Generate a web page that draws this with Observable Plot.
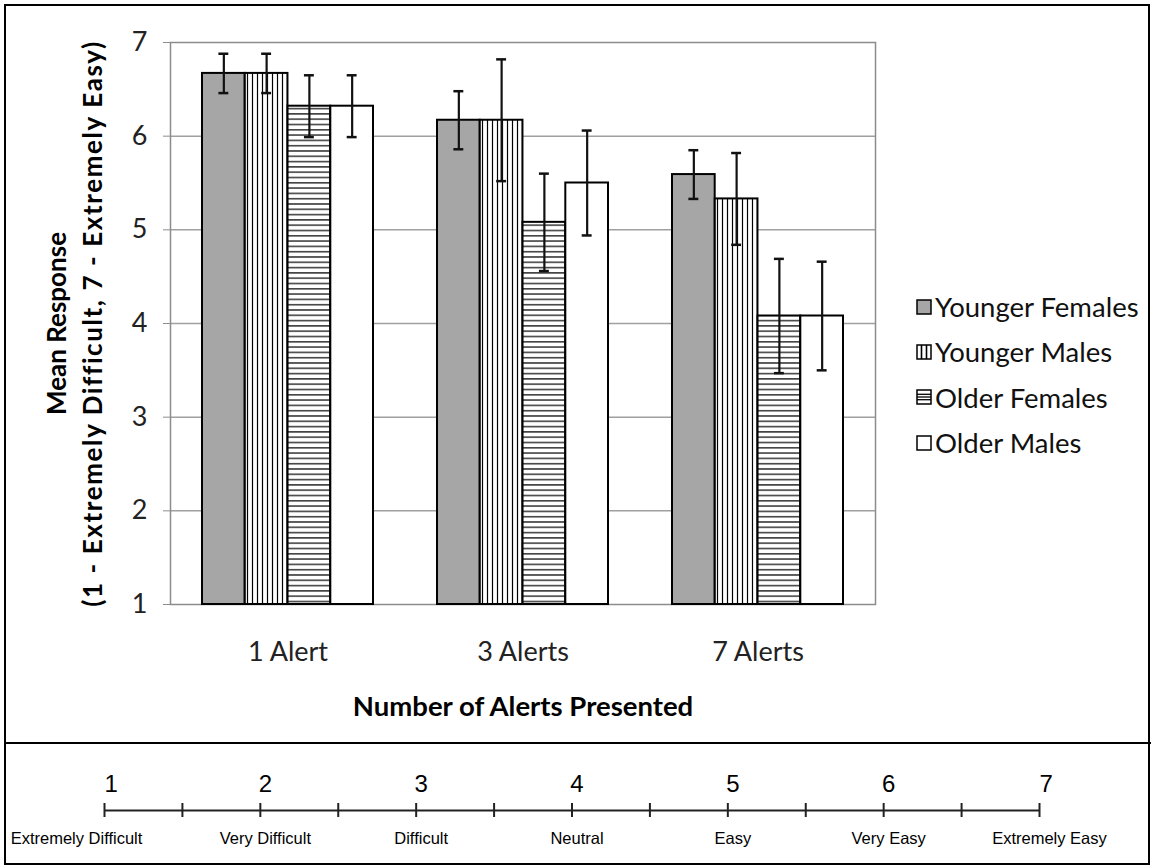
<!DOCTYPE html>
<html>
<head>
<meta charset="utf-8">
<script src="https://cdn.jsdelivr.net/npm/d3@7"></script>
<script src="https://cdn.jsdelivr.net/npm/@observablehq/plot@0.6"></script>
<style>
  html, body { margin: 0; padding: 0; background: #fff; }
  #page { position: relative; width: 1151px; height: 867px; overflow: hidden; background: #fff; }
  #main { position: absolute; left: 0; top: 0; }
  #scale { position: absolute; left: 0; top: 745px; }
  #border { position: absolute; left: 4px; top: 4px; width: 1146px; height: 861px; box-sizing: border-box; border: 2px solid #000; pointer-events: none; }
  #divider { position: absolute; left: 4px; top: 742px; width: 1147px; height: 0; border-top: 2.5px solid #000; }
  #legend { position: absolute; left: 916px; top: 284px; font-family: Lato, sans-serif; font-size: 27.5px; color: #111; }
  .item { display: flex; align-items: center; height: 45.3px; }
  .item svg { margin-right: 3px; flex: none; }
</style>
</head>
<body>
<div id="page">
  <div id="main"></div>
  <div id="scale"></div>
  <div id="legend"></div>
  <div id="border"></div>
  <div id="divider"></div>
</div>
<script>
// ---- data ----
const alerts = ["1 Alert", "3 Alerts", "7 Alerts"];
const series = ["Younger Females", "Younger Males", "Older Females", "Older Males"];
const youngerFemales = [6.67, 6.17, 5.59];
const youngerMales   = [6.67, 6.17, 5.33];
const olderFemales   = [6.32, 5.08, 4.08];
const olderMales     = [6.32, 5.50, 4.08];
const youngerFemalesErr = [0.21, 0.31, 0.26];
const youngerMalesErr   = [0.21, 0.65, 0.49];
const olderFemalesErr   = [0.33, 0.52, 0.61];
const olderMalesErr     = [0.33, 0.56, 0.58];
const yTicks = [1, 2, 3, 4, 5, 6, 7];
const gridTicks = [2, 3, 4, 5, 6];
const yTitleLine1 = "Mean Response";
const yTitleLine2 = "(1 - Extremely Difficult, 7 - Extremely Easy)";
const xTitle = "Number of Alerts Presented";
const scaleValues = [1, 2, 3, 4, 5, 6, 7];
const scaleMinorTicks = [1.5, 2.5, 3.5, 4.5, 5.5, 6.5];
const scaleLabels = ["Extremely Difficult", "Very Difficult", "Difficult", "Neutral", "Easy", "Very Easy", "Extremely Easy"];

const means = [youngerFemales, youngerMales, olderFemales, olderMales];
const errs = [youngerFemalesErr, youngerMalesErr, olderFemalesErr, olderMalesErr];
const fills = ["#a6a6a6", "url(#vstripes)", "url(#hstripes)", "#ffffff"];

const rows = [];
series.forEach((s, i) => alerts.forEach((a, j) => rows.push({series: s, alert: a, mean: means[i][j], err: errs[i][j]})));

// ---- layout ----
const W = 1151, H = 743;
const mL = 170, mR = 276, mT = 42, mB = 139;
const pIn = 0.272, pOut = 0.136;
const innerW = W - mL - mR;
const step = innerW / (alerts.length - pIn + 2 * pOut);
const bw = step * (1 - pIn);
const sub = bw / series.length;
const capHalf = 5;

const marks = [
  Plot.ruleY(gridTicks, {stroke: "#a0a0a0", strokeWidth: 1.5}),
  Plot.frame({stroke: "#8c8c8c", strokeWidth: 1.5}),
  Plot.axisY(yTicks, {tickSize: 7, tickPadding: 16, stroke: "#8c8c8c", fill: "#222", fontSize: 27, label: null, tickFormat: d => String(d)}),
];
series.forEach((s, i) => {
  const data = rows.filter(d => d.series === s);
  marks.push(Plot.barY(data, {
    x: "alert", y1: 1, y2: "mean", fill: fills[i], stroke: "#000", strokeWidth: 2,
    insetLeft: i * sub, insetRight: (series.length - 1 - i) * sub
  }));
});
series.forEach((s, i) => {
  const data = rows.filter(d => d.series === s);
  const c = (i + 0.5) * sub;
  marks.push(Plot.ruleX(data, {x: "alert", y1: d => d.mean - d.err, y2: d => d.mean + d.err, dx: c - bw / 2, stroke: "#111", strokeWidth: 2.2}));
  for (const sign of [-1, 1]) {
    marks.push(Plot.tickY(data, {x: "alert", y: d => d.mean + sign * d.err, insetLeft: c - capHalf, insetRight: bw - c - capHalf, stroke: "#111", strokeWidth: 2.5}));
  }
});
marks.push(Plot.text(alerts, {x: d => d, frameAnchor: "bottom", dy: 48, lineAnchor: "middle", fontSize: 27, fill: "#222"}));
marks.push(Plot.text([xTitle], {frameAnchor: "bottom", dy: 103, lineAnchor: "middle", fontSize: 27.5, fontWeight: "bold", fill: "#000"}));
marks.push(Plot.text([yTitleLine1], {frameAnchor: "left", dx: -113, rotate: -90, textAnchor: "middle", lineAnchor: "middle", fontSize: 26, fontWeight: "bold", fill: "#000"}));
marks.push(Plot.text([yTitleLine2], {frameAnchor: "left", dx: -77, rotate: -90, textAnchor: "middle", lineAnchor: "middle", fontSize: 26, fontWeight: "bold", fill: "#000"}));

const chart = Plot.plot({
  width: W, height: H,
  marginLeft: mL, marginRight: mR, marginTop: mT, marginBottom: mB,
  style: {fontFamily: "Lato, sans-serif", background: "transparent"},
  x: {domain: alerts, type: "band", paddingInner: pIn, paddingOuter: pOut, axis: null},
  y: {domain: [1, 7], axis: null},
  marks
});
d3.select(chart).insert("defs", ":first-child").html(`
  <pattern id="vstripes" patternUnits="userSpaceOnUse" width="5" height="5">
    <rect width="5" height="5" fill="#fff"/>
    <line x1="2.5" y1="0" x2="2.5" y2="5" stroke="#000" stroke-width="1.2"/>
  </pattern>
  <pattern id="hstripes" patternUnits="userSpaceOnUse" width="5" height="5.3">
    <rect width="5" height="5.3" fill="#fff"/>
    <line x1="0" y1="2.6" x2="5" y2="2.6" stroke="#000" stroke-width="1.2"/>
  </pattern>`);
d3.select(chart).selectAll("text").filter(function() { return this.textContent === yTitleLine2; })
  .style("letter-spacing", "1.6px");
document.getElementById("main").appendChild(chart);

// ---- legend ----
const legendSwatch = [
  `<rect x="1" y="1" width="14" height="14" fill="#a6a6a6" stroke="#000" stroke-width="1.5"/>`,
  `<rect x="1" y="1" width="14" height="14" fill="#fff" stroke="#000" stroke-width="1.5"/><line x1="5.5" y1="1" x2="5.5" y2="15" stroke="#000" stroke-width="1.6"/><line x1="10.5" y1="1" x2="10.5" y2="15" stroke="#000" stroke-width="1.6"/>`,
  `<rect x="1" y="1" width="14" height="14" fill="#fff" stroke="#000" stroke-width="1.5"/><line x1="1" y1="5.3" x2="15" y2="5.3" stroke="#000" stroke-width="1.3"/><line x1="1" y1="8" x2="15" y2="8" stroke="#000" stroke-width="1.3"/><line x1="1" y1="10.7" x2="15" y2="10.7" stroke="#000" stroke-width="1.3"/>`,
  `<rect x="1" y="1" width="14" height="14" fill="#fff" stroke="#000" stroke-width="1.5"/>`
];
const legend = d3.select("#legend");
series.forEach((s, i) => {
  const item = legend.append("div").attr("class", "item");
  item.append("svg").attr("width", 16).attr("height", 16).html(legendSwatch[i]);
  item.append("span").text(s);
});

// ---- bottom rating scale ----
const labelShift = [-28, 0, 0, 0, 0, 0, 10];
const scaleChart = Plot.plot({
  width: W, height: 120,
  marginLeft: 104, marginRight: W - 1039, marginTop: 58, marginBottom: 48,
  style: {fontFamily: "'Liberation Sans', Arial, sans-serif", background: "transparent"},
  x: {domain: [1, 7], axis: null},
  y: {domain: [-1, 1], axis: null},
  marks: [
    Plot.ruleY([0], {stroke: "#222", strokeWidth: 2}),
    Plot.tickX(scaleValues, {x: d => d, stroke: "#222", strokeWidth: 2}),
    Plot.tickX(scaleMinorTicks, {x: d => d, stroke: "#222", strokeWidth: 2}),
    Plot.text(scaleValues.filter(d => d > 1 && d < 7), {x: d => d, y: 0, dy: -26, dx: 5, text: d => String(d), fontSize: 24, fill: "#000"}),
    Plot.text(scaleValues.filter(d => d === 1 || d === 7), {x: d => d, y: 0, dy: -26, text: d => String(d), fontSize: 24, fill: "#000", textAnchor: "start"}),
    Plot.text(scaleValues, {x: d => d, y: 0, dy: 28, text: (d, i) => scaleLabels[i], fontSize: 16.5, fill: "#000"}),
  ]
});
d3.select(scaleChart).selectAll("text").filter(function() { return scaleLabels.includes(this.textContent); })
  .attr("dx", function() { const i = scaleLabels.indexOf(this.textContent); return labelShift[i] || 5; });
document.getElementById("scale").appendChild(scaleChart);
</script>
</body>
</html>
